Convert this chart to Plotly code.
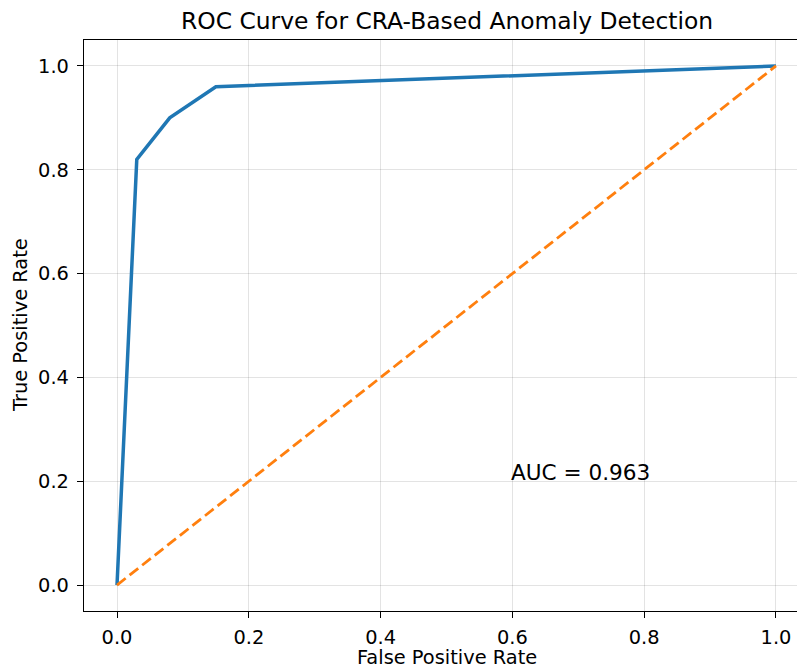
import plotly.graph_objects as go

fpr = [0.0, 0.03, 0.08, 0.15, 1.0]
tpr = [0.0, 0.82, 0.90, 0.96, 1.0]
diag_x = [0.0, 1.0]
diag_y = [0.0, 1.0]
tick_vals = [0.0, 0.2, 0.4, 0.6, 0.8, 1.0]
tick_text = ["0.0", "0.2", "0.4", "0.6", "0.8", "1.0"]
title_text = "ROC Curve for CRA-Based Anomaly Detection"
xlabel = "False Positive Rate"
ylabel = "True Positive Rate"
auc_text = "AUC = 0.963"
auc_pos = (0.6, 0.2)

W, H = 797, 669
L, T, B, R = 84, 40, 58, 0
FONT = "DejaVu Sans"
TICK = 19.4

fig = go.Figure()
fig.add_trace(go.Scatter(x=fpr, y=tpr, mode="lines",
                         line=dict(color="#1f77b4", width=3.5), showlegend=False))
fig.add_trace(go.Scatter(x=diag_x, y=diag_y, mode="lines",
                         line=dict(color="#ff7f0e", width=2.8, dash="11px,5px"),
                         showlegend=False))

axis_common = dict(
    showgrid=True, gridcolor="rgba(0,0,0,0.11)", gridwidth=1.2,
    zeroline=False, showline=True, linecolor="black", linewidth=1.4,
    ticks="outside", ticklen=6, tickwidth=1.4, tickcolor="black",
    tickfont=dict(family=FONT, size=TICK, color="black"),
    tickvals=tick_vals, ticktext=tick_text,
)
fig.update_xaxes(range=[-0.0501, 1.0319], mirror=True, ticklabelstandoff=3, **axis_common)
fig.update_yaxes(range=[-0.05, 1.05], mirror=False, ticklabelstandoff=4, **axis_common)

x_center = (0.5 * (84 + 809) - L) / (W - L - R)

fig.update_layout(
    width=W, height=H,
    margin=dict(l=L, r=R, t=T, b=B, pad=0),
    paper_bgcolor="white", plot_bgcolor="white",
    font=dict(family=FONT, color="black"),
    annotations=[
        dict(text=title_text, x=x_center, xref="paper", y=1, yref="paper",
             xanchor="center", yanchor="bottom", yshift=3, showarrow=False,
             font=dict(family=FONT, size=23.4, color="black")),
        dict(text=xlabel, x=x_center, xref="paper", y=0, yref="paper",
             xanchor="center", yanchor="top", yshift=-33, showarrow=False,
             font=dict(family=FONT, size=TICK, color="black")),
        dict(text=ylabel, x=0, xref="paper", y=0.5, yref="paper",
             xanchor="right", yanchor="middle", xshift=-50, textangle=-90,
             showarrow=False, font=dict(family=FONT, size=TICK, color="black")),
        dict(text=auc_text, x=auc_pos[0], y=auc_pos[1], xref="x", yref="y",
             xanchor="left", yanchor="bottom", yshift=-6, xshift=-3, showarrow=False,
             font=dict(family=FONT, size=21.6, color="black")),
    ],
)

fig.write_html("out.html")
